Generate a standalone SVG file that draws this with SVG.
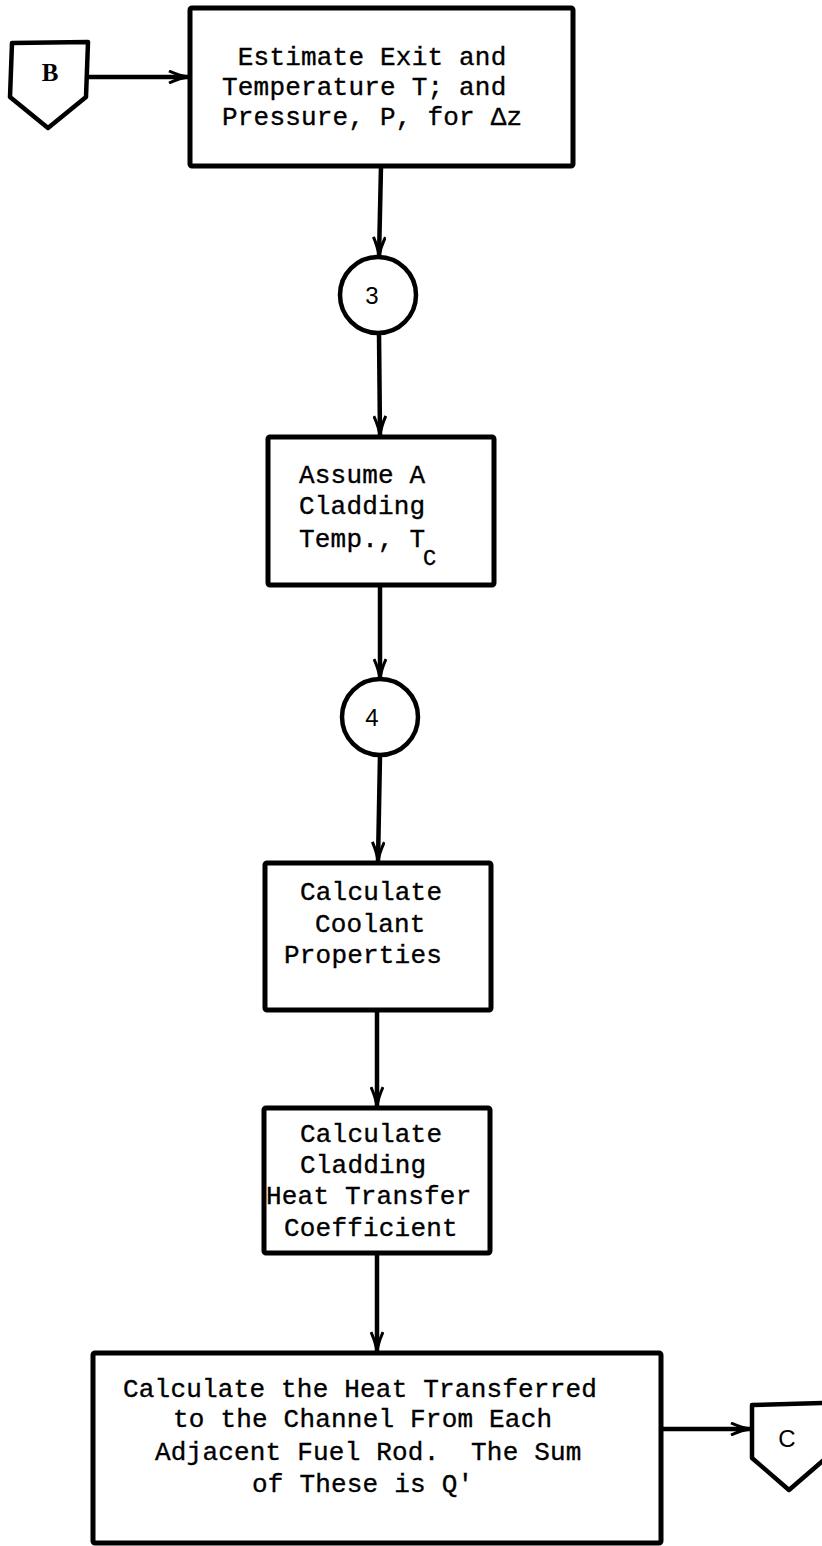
<svg xmlns="http://www.w3.org/2000/svg" width="822" height="1546" viewBox="0 0 822 1546">
  <style>
    .box { fill: #fff; stroke: #000; stroke-width: 5; stroke-linejoin: round; }
    .conn { fill: #fff; stroke: #000; stroke-width: 4.5; stroke-linejoin: round; }
    .line { fill: none; stroke: #000; stroke-width: 4.5; }
    .txt { font-family: "Liberation Mono", "Courier New", monospace; font-size: 26px; letter-spacing: 0.2px; fill: #000; stroke: #000; stroke-width: 0.35; white-space: pre; }
    .sub { font-family: "Liberation Mono", "Courier New", monospace; font-size: 22px; fill: #000; stroke: #000; stroke-width: 0.35; }
    .lbl { font-family: "Liberation Sans", Arial, sans-serif; font-size: 24px; fill: #000; text-anchor: middle; }
    .lbl-serif { font-family: "Liberation Serif", "Times New Roman", serif; font-size: 25px; font-weight: bold; fill: #000; text-anchor: middle; }
  </style>
  <defs>
    <marker id="arrow" viewBox="0 0 22 14" refX="21" refY="7" markerWidth="22" markerHeight="14" markerUnits="userSpaceOnUse" orient="auto">
      <path d="M1,1 Q12,6 21,7 Q12,8 1,13" fill="none" stroke="#000" stroke-width="3"/>
    </marker>
  </defs>
  <rect width="822" height="1546" fill="#fff"/>

  <!-- connectors -->
  <g id="connectors">
    <line class="line" x1="88" y1="77" x2="189" y2="77" marker-end="url(#arrow)"/>
    <line class="line" x1="381" y1="166" x2="379" y2="257" marker-end="url(#arrow)"/>
    <line class="line" x1="379" y1="333" x2="380" y2="436" marker-end="url(#arrow)"/>
    <line class="line" x1="380" y1="585" x2="380" y2="679" marker-end="url(#arrow)"/>
    <line class="line" x1="380" y1="755" x2="378" y2="862" marker-end="url(#arrow)"/>
    <line class="line" x1="377" y1="1010" x2="377" y2="1107" marker-end="url(#arrow)"/>
    <line class="line" x1="377" y1="1253" x2="377" y2="1352" marker-end="url(#arrow)"/>
    <line class="line" x1="661" y1="1429" x2="751" y2="1429" marker-end="url(#arrow)"/>
  </g>

  <!-- off-page connector B -->
  <g id="offpage-B">
    <path class="conn" d="M12,43 L88,42 L86,97 L48,128 L10,97 Z"/>
    <text class="lbl-serif" x="50" y="81">B</text>
  </g>

  <!-- step: estimate exit conditions -->
  <g id="estimate-exit">
    <rect class="box" x="190" y="8" width="383" height="158" rx="2"/>
    <text class="txt" x="222" y="65"> Estimate Exit and</text>
    <text class="txt" x="222" y="95">Temperature T; and</text>
    <text class="txt" x="222" y="125">Pressure, P, for Δz</text>
  </g>

  <!-- loop point 3 -->
  <g id="point-3">
    <circle cx="378" cy="295" r="38" fill="#fff" stroke="#000" stroke-width="4.5"/>
    <text class="lbl" x="372" y="304">3</text>
  </g>

  <!-- step: assume cladding temperature -->
  <g id="assume-cladding">
    <rect class="box" x="268" y="437" width="226" height="148" rx="2"/>
    <text class="txt" x="299" y="483">Assume A</text>
    <text class="txt" x="299" y="514">Cladding</text>
    <text class="txt" x="299" y="547">Temp., T</text>
    <text class="sub" x="423" y="565">C</text>
  </g>

  <!-- loop point 4 -->
  <g id="point-4">
    <circle cx="380" cy="717" r="38" fill="#fff" stroke="#000" stroke-width="4.5"/>
    <text class="lbl" x="372" y="726">4</text>
  </g>

  <!-- step: coolant properties -->
  <g id="coolant-properties">
    <rect class="box" x="265" y="863" width="226" height="147" rx="2"/>
    <text class="txt" x="300" y="900">Calculate</text>
    <text class="txt" x="315" y="932">Coolant</text>
    <text class="txt" x="284" y="963">Properties</text>
  </g>

  <!-- step: heat transfer coefficient -->
  <g id="heat-transfer-coefficient">
    <rect class="box" x="264" y="1108" width="226" height="145" rx="2"/>
    <text class="txt" x="300" y="1142">Calculate</text>
    <text class="txt" x="300" y="1173">Cladding</text>
    <text class="txt" x="266" y="1204">Heat Transfer</text>
    <text class="txt" x="284" y="1236">Coefficient</text>
  </g>

  <!-- step: heat transferred to channel -->
  <g id="heat-to-channel">
    <rect class="box" x="93" y="1353" width="568" height="190" rx="2"/>
    <text class="txt" x="123" y="1397">Calculate the Heat Transferred</text>
    <text class="txt" x="173" y="1427">to the Channel From Each</text>
    <text class="txt" x="155" y="1460">Adjacent Fuel Rod.  The Sum</text>
    <text class="txt" x="252" y="1492">of These is Q'</text>
  </g>

  <!-- off-page connector C -->
  <g id="offpage-C">
    <path class="conn" d="M752,1405 L826,1403 L826,1458 L789,1490 L752,1458 Z"/>
    <text class="lbl" x="787" y="1447">C</text>
  </g>
</svg>
